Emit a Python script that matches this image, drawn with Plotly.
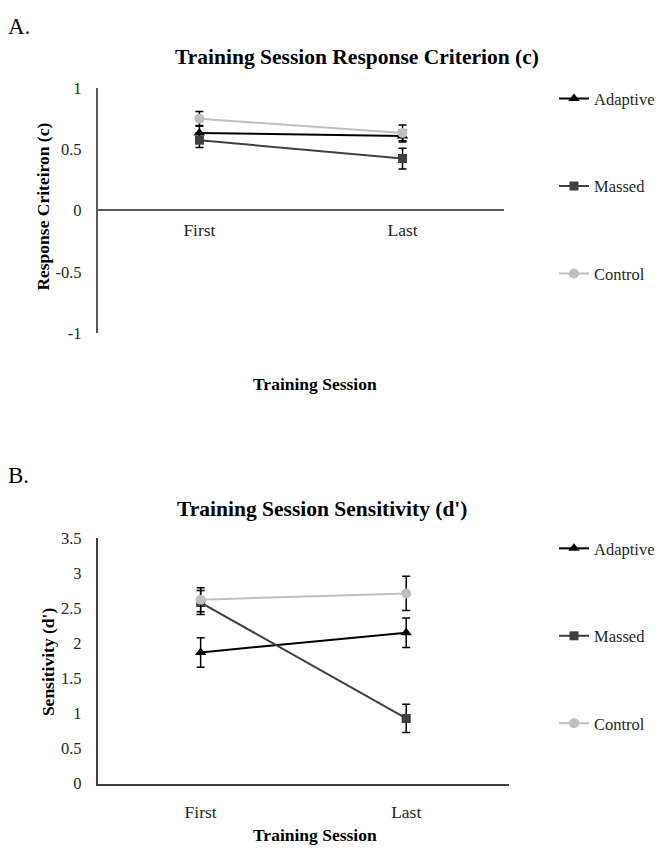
import plotly.graph_objects as go

W, H = 660, 854

sessions = ["First", "Last"]
groups = ["Adaptive", "Massed", "Control"]

# Response criterion (c): means and standard errors
crit_mean = {
    "Adaptive": [0.635, 0.61],
    "Massed": [0.575, 0.425],
    "Control": [0.75, 0.635],
}
crit_err = {
    "Adaptive": [0.06, 0.05],
    "Massed": [0.06, 0.085],
    "Control": [0.06, 0.065],
}

# Sensitivity (d'): means and standard errors
sens_mean = {
    "Adaptive": [1.87, 2.15],
    "Massed": [2.58, 0.93],
    "Control": [2.62, 2.71],
}
sens_err = {
    "Adaptive": [0.21, 0.21],
    "Massed": [0.17, 0.2],
    "Control": [0.17, 0.245],
}

crit_ticks = [-1, -0.5, 0, 0.5, 1]
sens_ticks = [0, 0.5, 1, 1.5, 2, 2.5, 3, 3.5]

colors = {"Adaptive": "#000000", "Massed": "#404040", "Control": "#bfbfbf"}
symbols = {"Adaptive": "triangle-up", "Massed": "square", "Control": "circle"}
msize = {"Adaptive": 10, "Massed": 9, "Control": 10}

FONT = "Liberation Serif, Times New Roman, serif"
TEXT = "#262626"


def px(x):
    return x / W


def py(y):
    return 1 - y / H


fig = go.Figure()

for g in groups:
    fig.add_trace(go.Scatter(
        x=sessions, y=crit_mean[g], name=g, mode="lines+markers",
        line=dict(color=colors[g], width=2),
        marker=dict(symbol=symbols[g], size=msize[g], color=colors[g]),
        error_y=dict(type="data", array=crit_err[g], color="#000000",
                     thickness=1.5, width=4),
        xaxis="x", yaxis="y", legend="legend", legendgroup="a" + g,
    ))

for g in groups:
    fig.add_trace(go.Scatter(
        x=sessions, y=sens_mean[g], name=g, mode="lines+markers",
        line=dict(color=colors[g], width=2),
        marker=dict(symbol=symbols[g], size=msize[g], color=colors[g]),
        error_y=dict(type="data", array=sens_err[g], color="#000000",
                     thickness=1.5, width=4),
        xaxis="x2", yaxis="y2", legend="legend2", legendgroup="b" + g,
    ))

xtick_font = dict(family=FONT, size=17.5, color=TEXT)
ytick_font = dict(family=FONT, size=16.5, color=TEXT)
legend_font = dict(family=FONT, size=16.5, color=TEXT)

fig.update_layout(
    width=W, height=H,
    margin=dict(l=0, r=0, t=0, b=0),
    paper_bgcolor="white", plot_bgcolor="white",
    font=dict(family=FONT, color="#000000"),
    xaxis=dict(
        domain=[px(100), px(515)], type="category", range=[-0.5, 1.5],
        anchor="free", position=py(206),
        showline=True, linecolor="#595959", linewidth=2,
        showgrid=False, zeroline=False, ticks="",
        tickfont=xtick_font, ticklabelstandoff=4,
    ),
    yaxis=dict(
        domain=[py(331.5), py(81)], range=[-1, 1],
        tickvals=crit_ticks, ticktext=[str(t) for t in crit_ticks],
        showline=True, linecolor="#595959", linewidth=2,
        showgrid=False, zeroline=False, ticks="",
        tickfont=ytick_font, ticklabelstandoff=11,
    ),
    xaxis2=dict(
        domain=[px(100), px(520)], type="category", range=[-0.5, 1.5],
        anchor="y2",
        showline=True, linecolor="#404040", linewidth=2,
        showgrid=False, zeroline=False, ticks="",
        tickfont=xtick_font, ticklabelstandoff=11,
    ),
    yaxis2=dict(
        domain=[py(792.3), py(541)], range=[0, 3.5],
        tickvals=sens_ticks, ticktext=[str(t) for t in sens_ticks],
        showline=True, linecolor="#404040", linewidth=2,
        showgrid=False, zeroline=False, ticks="",
        tickfont=ytick_font, ticklabelstandoff=11,
        anchor="x2",
    ),
    legend=dict(
        x=px(566), y=py(74), xanchor="left", yanchor="top",
        font=legend_font, tracegroupgap=63, itemwidth=30,
        bgcolor="rgba(0,0,0,0)",
    ),
    legend2=dict(
        x=px(566), y=py(534), xanchor="left", yanchor="top",
        font=legend_font, tracegroupgap=63, itemwidth=30,
        bgcolor="rgba(0,0,0,0)",
    ),
)

annotations = [
    dict(text="A.", x=px(6), y=py(17.5), xanchor="left", yanchor="middle",
         font=dict(size=23)),
    dict(text="<b>Training Session Response Criterion (c)</b>", x=px(365), y=py(49),
         xanchor="center", yanchor="middle", font=dict(size=21.5)),
    dict(text="<b>Response Criteiron (c)</b>", x=px(43), y=py(202), textangle=-90,
         xanchor="center", yanchor="middle", font=dict(size=17.5)),
    dict(text="<b>Training Session</b>", x=px(322), y=py(384),
         xanchor="center", yanchor="middle", font=dict(size=17.5)),
    dict(text="B.", x=px(6), y=py(477), xanchor="left", yanchor="middle",
         font=dict(size=23)),
    dict(text="<b>Training Session Sensitivity (d')</b>", x=px(329), y=py(511),
         xanchor="center", yanchor="middle", font=dict(size=21.5)),
    dict(text="<b>Sensitivity (d')</b>", x=px(49), y=py(667), textangle=-90,
         xanchor="center", yanchor="middle", font=dict(size=17.5)),
    dict(text="<b>Training Session</b>", x=px(322), y=py(845),
         xanchor="center", yanchor="middle", font=dict(size=17.5)),
]
for a in annotations:
    a.update(xref="paper", yref="paper", showarrow=False)
    a["font"] = dict(family=FONT, color="#000000", **a["font"])
fig.update_layout(annotations=annotations)

fig.write_html("out.html")
